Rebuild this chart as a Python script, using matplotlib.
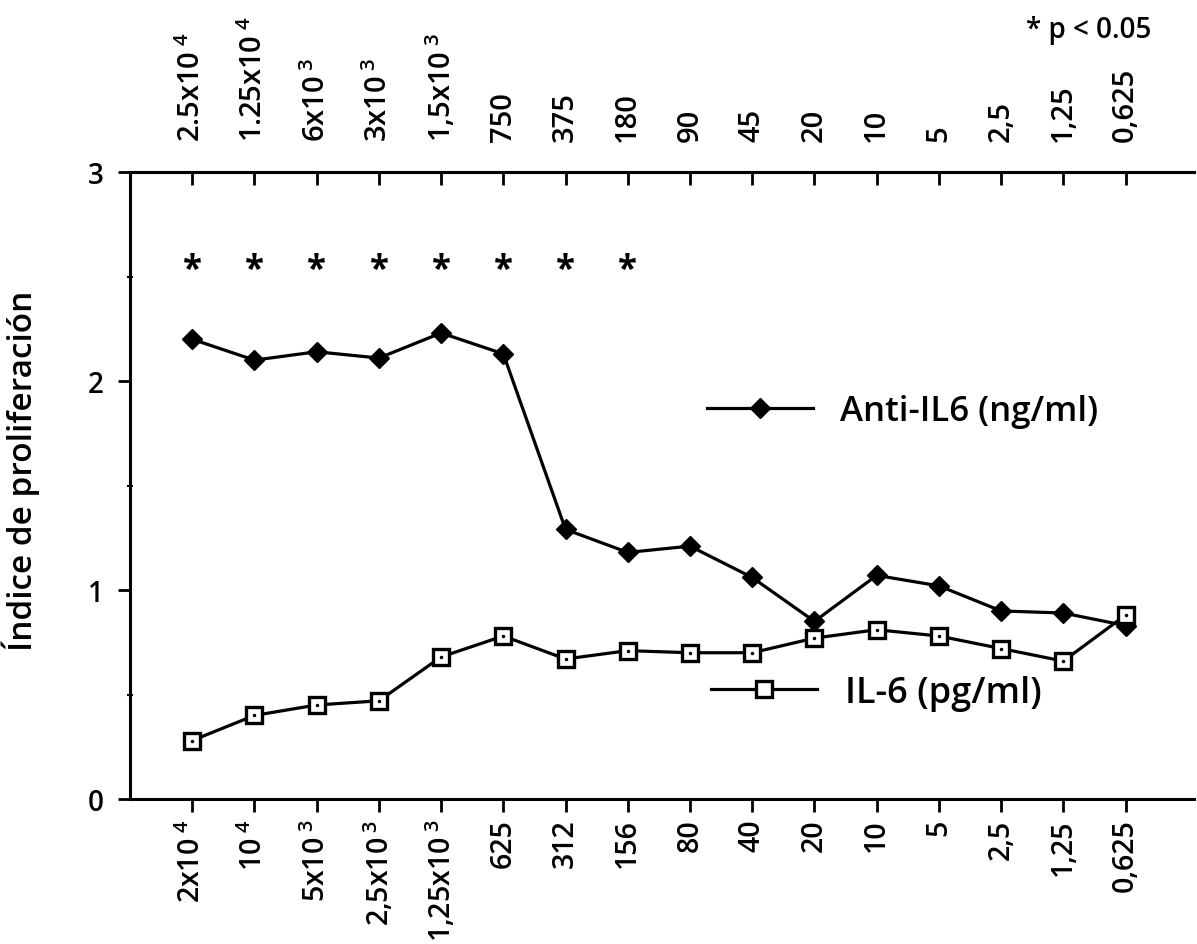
import matplotlib
matplotlib.use("Agg")
import matplotlib.pyplot as plt
from matplotlib.ticker import MultipleLocator

plt.rcParams['font.family'] = ['Open Sans', 'DejaVu Sans']
plt.rcParams['font.weight'] = 'semibold'
plt.rcParams['axes.labelweight'] = 'semibold'
plt.rcParams['mathtext.fontset'] = 'custom'
plt.rcParams['mathtext.rm'] = 'Open Sans:semibold'
plt.rcParams['mathtext.it'] = 'Open Sans:semibold'
plt.rcParams['mathtext.bf'] = 'Open Sans:bold'

# ---- data ----
bottom_base = ["2x10", "10", "5x10", "2,5x10", "1,25x10", "625", "312", "156",
               "80", "40", "20", "10", "5", "2,5", "1,25", "0,625"]
bottom_exp = ["4", "4", "3", "3", "3", "", "", "", "", "", "", "", "", "", "", ""]
top_base = ["2.5x10", "1.25x10", "6x10", "3x10", "1,5x10", "750", "375", "180",
            "90", "45", "20", "10", "5", "2,5", "1,25", "0,625"]
top_exp = ["4", "4", "3", "3", "3", "", "", "", "", "", "", "", "", "", "", ""]

anti_il6 = [2.20, 2.10, 2.14, 2.11, 2.23, 2.13, 1.29, 1.18, 1.21, 1.06, 0.85,
            1.07, 1.02, 0.90, 0.89, 0.83]
il6 = [0.28, 0.40, 0.45, 0.47, 0.68, 0.78, 0.67, 0.71, 0.70, 0.70, 0.77,
       0.81, 0.78, 0.72, 0.66, 0.88]
significant = [True, True, True, True, True, True, True, True,
               False, False, False, False, False, False, False, False]
star_level = 2.53


def mk(base, exp):
    return f"{base}$^{{\\;{exp}}}$" if exp else base


xpos = list(range(len(anti_il6)))

fig = plt.figure(figsize=(11.97, 9.45), dpi=100)
ax = fig.add_axes([0.1086, 0.1534, 0.8889, 0.6635])

l1, = ax.plot(xpos, anti_il6, color='black', lw=2.3, marker='D', ms=10,
              mfc='black', mec='black', label='Anti-IL6 (ng/ml)', zorder=3)
l2, = ax.plot(xpos, il6, color='black', lw=2.3, marker='s', ms=11,
              mfc='white', mec='black', mew=2.4, label='IL-6 (pg/ml)', zorder=3)
ax.plot(xpos, il6, ls='none', marker='.', ms=3, color='black', zorder=4)

for x, s in zip(xpos, significant):
    if s:
        ax.text(x, star_level, "*", ha='center', va='center', fontsize=25,
                fontweight='bold')

ax.set_xlim(-1.0, 16.1)
ax.set_ylim(0, 3)

ax.spines['right'].set_visible(False)
for sp in ['left', 'bottom', 'top']:
    ax.spines[sp].set_linewidth(2.2)

ax.set_yticks([0, 1, 2, 3])
ax.yaxis.set_minor_locator(MultipleLocator(0.5))
ax.tick_params(axis='y', which='major', direction='out', length=9, width=2,
               labelsize=20, pad=10)
ax.tick_params(axis='y', which='minor', direction='inout', length=5, width=1.5)

ax.set_xticks(xpos)
ax.set_xticklabels([mk(b, e) for b, e in zip(bottom_base, bottom_exp)],
                   rotation=90, fontsize=20.5)
ax.tick_params(axis='x', direction='out', length=9, width=2, pad=5)

ax2 = ax.twiny()
ax2.set_xlim(ax.get_xlim())
ax2.set_xticks(xpos)
ax2.set_xticklabels([mk(b, e) for b, e in zip(top_base, top_exp)],
                    rotation=90, fontsize=21)
ax2.tick_params(axis='x', direction='in', length=9, width=2, pad=22)
for sp in ['left', 'right', 'bottom']:
    ax2.spines[sp].set_visible(False)
ax2.spines['top'].set_linewidth(2.2)

ax.set_ylabel("Índice de proliferación", fontsize=24, fontweight='semibold')
ax.yaxis.set_label_coords(-0.085, 0.525)

leg1 = ax.legend(handles=[l1], loc='center left', bbox_to_anchor=(0.542, 0.619),
                 frameon=False, fontsize=25, handlelength=3.05, handletextpad=0.8,
                 borderpad=0, borderaxespad=0)
ax.add_artist(leg1)
ax.legend(handles=[l2], loc='center left', bbox_to_anchor=(0.546, 0.169),
          frameon=False, fontsize=26, handlelength=2.95, handletextpad=0.75,
          borderpad=0, borderaxespad=0)

fig.text(0.962, 0.968, "* p < 0.05", ha='right', va='center', fontsize=20)

fig.savefig("out.png", dpi=100)
